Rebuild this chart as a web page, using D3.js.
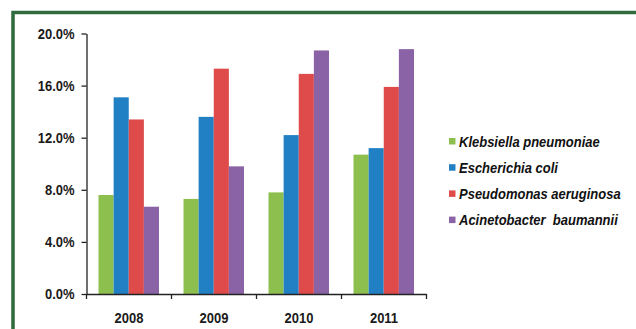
<!DOCTYPE html>
<html>
<head>
<meta charset="utf-8">
<script src="https://cdn.jsdelivr.net/npm/d3@7"></script>
<style>
    body { margin: 0; background: #fff; }
    svg { display: block; }
</style>
</head>
<body>
<div id="chart"></div>
<script>
// data
let years = ["2008", "2009", "2010", "2011"];
let species = ["Klebsiella pneumoniae", "Escherichia coli", "Pseudomonas aeruginosa", "Acinetobacter  baumannii"];
let klebsiella = [7.6, 7.3, 7.8, 10.7];
let escherichia = [15.1, 13.6, 12.2, 11.2];
let pseudomonas = [13.4, 17.3, 16.9, 15.9];
let acinetobacter = [6.7, 9.8, 18.7, 18.8];
let yTicks = [0, 4, 8, 12, 16, 20];
let colors = ["#8dbf4e", "#2180c4", "#df4b4b", "#8a63a6"];

let series = [klebsiella, escherichia, pseudomonas, acinetobacter];

let width = 636, height = 329;
// the original picture is a bit stretched vertically, so the text is too
let stretch = "scale(1,1.18)";

let svg = d3.select("#chart")
    .append("svg")
    .attr("width", width)
    .attr("height", height);

// green frame (top and left only)
svg.append("path")
    .attr("d", "M13,340 L13,12.5 L640,12.5")
    .attr("fill", "none")
    .attr("stroke", "#2f6b3c")
    .attr("stroke-width", 3.5);

let x = d3.scaleBand()
    .domain(years)
    .range([86.5, 426.5]);

let xInner = d3.scaleBand()
    .domain(d3.range(species.length))
    .range([12, x.bandwidth() - 12.5]);

let y = d3.scaleLinear()
    .domain([0, 20])
    .range([294, 33.5]);

// bars
years.forEach((yr, i) => {
    let g = svg.append("g").attr("transform", "translate(" + x(yr) + ",0)");
    g.selectAll("rect")
        .data(series.map((s, k) => ({k: k, v: s[i]})))
        .enter()
        .append("rect")
        .attr("x", d => xInner(d.k))
        .attr("y", d => y(d.v))
        .attr("width", xInner.bandwidth())
        .attr("height", d => y(0) - y(d.v))
        .attr("fill", d => colors[d.k]);
});

// y axis
let yAxis = d3.axisLeft(y)
    .tickValues(yTicks)
    .tickFormat(d => d.toFixed(1) + "%")
    .tickSize(5)
    .tickSizeOuter(0)
    .tickPadding(7);

let gy = svg.append("g")
    .attr("transform", "translate(86.5,0)")
    .call(yAxis);
gy.select(".domain").attr("stroke", "#222").attr("stroke-width", 1.3);
gy.selectAll(".tick line").attr("stroke", "#222").attr("stroke-width", 1.3);
gy.selectAll("text")
    .attr("font-family", "Liberation Sans, Arial, sans-serif")
    .attr("font-weight", "bold")
    .attr("font-size", "13px")
    .attr("fill", "#1a1a1a")
    .attr("transform", stretch);

// x axis: labels in the middle, ticks at band edges
let xAxis = d3.axisBottom(x)
    .tickSize(0)
    .tickPadding(15.5);

let gx = svg.append("g")
    .attr("transform", "translate(0,294)")
    .call(xAxis);
gx.select(".domain").attr("stroke", "#222").attr("stroke-width", 1.3);
gx.selectAll("text")
    .attr("font-family", "Liberation Sans, Arial, sans-serif")
    .attr("font-weight", "bold")
    .attr("font-size", "13px")
    .attr("fill", "#1a1a1a")
    .attr("transform", stretch);

let edges = years.map(d => x(d)).concat([x(years[years.length - 1]) + x.bandwidth()]);
gx.selectAll(".edge")
    .data(edges)
    .enter()
    .append("line")
    .attr("x1", d => d)
    .attr("x2", d => d)
    .attr("y1", 0)
    .attr("y2", 5)
    .attr("stroke", "#222")
    .attr("stroke-width", 1.3);

// legend
let legend = svg.append("g")
    .attr("transform", "translate(449,141.5)");

let items = legend.selectAll("g")
    .data(species)
    .enter()
    .append("g")
    .attr("transform", (d, i) => "translate(0," + (i * 26.2) + ")");

items.append("rect")
    .attr("x", 0)
    .attr("y", -3.5)
    .attr("width", 6.5)
    .attr("height", 6.5)
    .attr("fill", (d, i) => colors[i]);

items.append("text")
    .attr("transform", "translate(10,5) " + stretch)
    .attr("font-family", "Liberation Sans, Arial, sans-serif")
    .attr("font-weight", "bold")
    .attr("font-style", "italic")
    .attr("font-size", "13px")
    .attr("fill", "#111")
    .style("white-space", "pre")
    .text(d => d);
</script>
</body>
</html>
